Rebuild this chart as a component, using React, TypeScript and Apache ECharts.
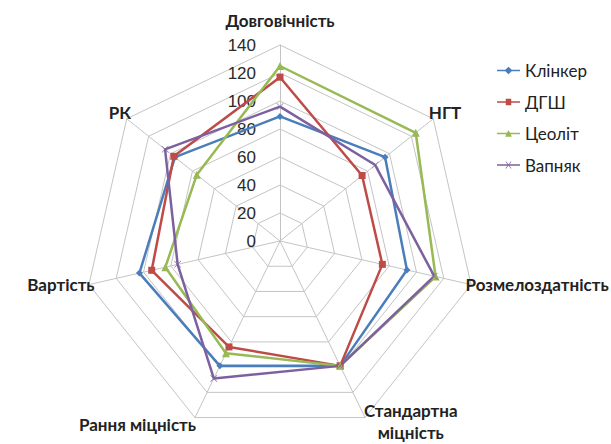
import React, { useEffect, useRef } from "react";
import * as echarts from "echarts";

const categories = [
  "Довговічність",
  "НГТ",
  "Розмелоздатність",
  "Стандартна\nміцність",
  "Рання міцність",
  "Вартість",
  "РК",
];
const seriesNames = ["Клінкер", "ДГШ", "Цеоліт", "Вапняк"];
const klinker = [89, 96, 93, 99, 99, 103, 96];
const dgsh = [117, 75, 75, 99, 84, 94, 97];
const tseolit = [125, 124, 114, 99, 89, 84, 76];
const vapniak = [96, 87, 113, 99, 109, 75, 105];
const axisMax = 140;
const tickStep = 20;

// label style only: gap of each axis name from the axis end, and extra sideways shift
const nameGaps = [25, 10, 0, 4, 8, 0, 10];
const nameShiftX = [0, 4, 66, 44, -54, -28, 1];

const colors = ["#4A7EBB", "#BE4B48", "#98B954", "#7D60A0"];
const symbols = [
  "diamond",
  "rect",
  "triangle",
  "path://M0,0.6L0.6,0L5,4.4L9.4,0L10,0.6L5.6,5L10,9.4L9.4,10L5,5.6L0.6,10L0,9.4L4.4,5Z",
];
const symbolSizes = [7, 7, 8, 7];
const legendIcons = [
  "path://M0,4.3H9L12.5,1L16,4.3H25V5.7H16L12.5,9L9,5.7H0Z",
  "path://M0,4.3H9.5V1.5H15.5V4.3H25V5.7H15.5V8.5H9.5V5.7H0Z",
  "path://M0,4.3H10.7L12.5,1.5L14.3,4.3H25V5.7H15.1L16,8.5H9L9.9,5.7H0Z",
  "path://M0,4.3H25V5.7H0Z M9.3,1.4L9.8,1L15.7,8.6L15.2,9Z M15.2,1L15.7,1.4L9.8,9L9.3,8.6Z",
];

export default function App() {
  const ref = useRef<HTMLDivElement>(null);
  useEffect(() => {
    if (!ref.current) return;
    const chart = echarts.init(ref.current, undefined, { renderer: "svg" });
    // ECharts lays indicators counter-clockwise; reorder so they run clockwise
    const order = [0, 6, 5, 4, 3, 2, 1];
    const reorder = (arr: any[]) => order.map((i) => arr[i]);
    const all = [klinker, dgsh, tseolit, vapniak];
    const indicator = order.map((k, i) => {
      const dx = nameShiftX[k];
      return {
        name: categories[k],
        max: axisMax,
        min: 0,
        nameGap: nameGaps[k],
        nameMoveOverlap: false,
        nameTextStyle: {
          align: "center",
          verticalAlign: "middle",
          padding: [0, dx < 0 ? -2 * dx : 0, 0, dx > 0 ? 2 * dx : 0],
        },
        axisLabel:
          i === 0
            ? {
                show: true,
                fontSize: 17,
                color: "#2a2a2a",
                fontFamily: "Liberation Sans",
                margin: 24,
              }
            : { show: false },
      };
    });
    chart.setOption({
      animation: false,
      backgroundColor: "#fff",
      legend: {
        orient: "vertical",
        left: 492,
        top: 57,
        itemWidth: 23,
        itemHeight: 9,
        itemGap: 14.5,
        textStyle: { fontSize: 17, color: "#222", fontFamily: "Lato" },
        data: seriesNames.map((n, i) => ({
          name: n,
          icon: legendIcons[i],
          itemStyle: { color: colors[i] },
        })),
      },
      radar: {
        center: [280, 241],
        radius: 196,
        startAngle: 90,
        splitNumber: axisMax / tickStep,
        shape: "polygon",
        indicator,
        axisName: {
          color: "#222",
          fontSize: 17,
          fontWeight: "bold",
          fontFamily: "Lato",
          lineHeight: 22,
        },
        axisLine: { lineStyle: { color: "#c4c4c4", width: 1 } },
        splitLine: { lineStyle: { color: "#c4c4c4", width: 1 } },
        splitArea: { show: false },
        axisTick: { show: false },
        axisLabel: { show: false },
      },
      series: [
        {
          type: "radar",
          data: seriesNames.map((n, i) => ({
            name: n,
            value: reorder(all[i]),
            symbol: symbols[i],
            symbolSize: symbolSizes[i],
            lineStyle: { color: colors[i], width: 2.5 },
            itemStyle: { color: colors[i] },
          })),
        },
      ],
    });
    return () => chart.dispose();
  }, []);
  return (
    <div
      ref={ref}
      style={{ position: "fixed", left: 0, top: 0, width: 611, height: 444 }}
    />
  );
}
